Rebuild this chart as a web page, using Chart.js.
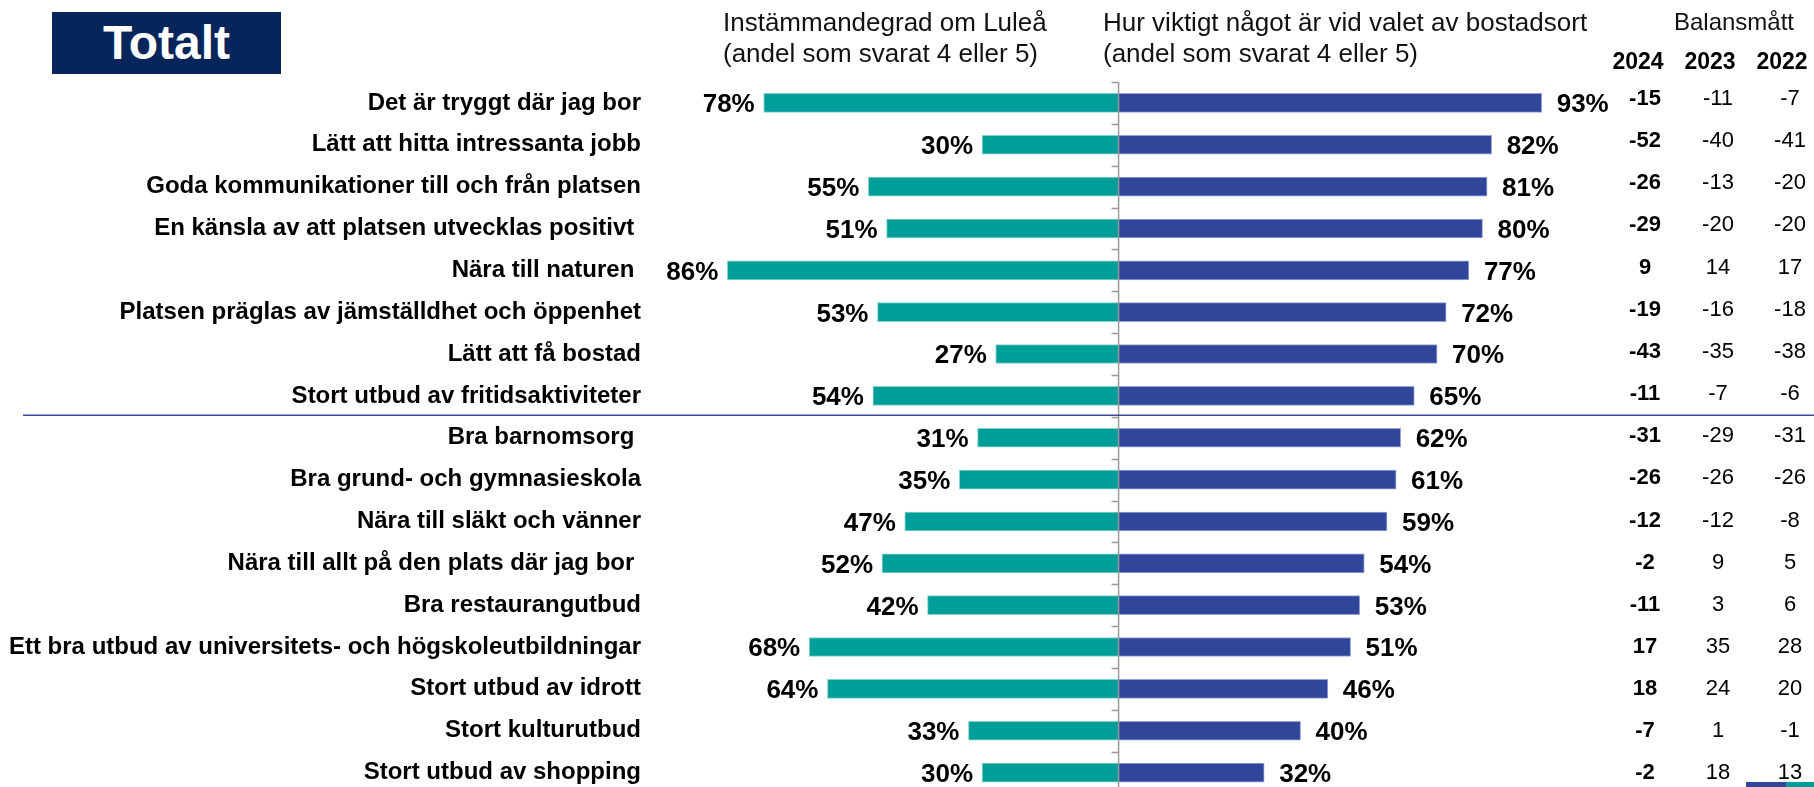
<!DOCTYPE html>
<html>
<head>
<meta charset="utf-8">
<script src="https://cdn.jsdelivr.net/npm/chart.js@4.4.1/dist/chart.umd.min.js"></script>
<style>
  html, body { margin: 0; padding: 0; background: #fff; overflow: hidden; }
  body { width: 1814px; height: 787px; position: relative; font-family: "Liberation Sans", Arial, sans-serif; }
  #wrap { position: absolute; left: 0; top: 0; width: 1814px; height: 800px; }
  .badge { position: absolute; left: 52px; top: 12px; width: 229px; height: 62px; background: #06255a;
    color: #fff; font-weight: bold; font-size: 48px; line-height: 62px; text-align: center; }
  .head { position: absolute; top: 7px; font-size: 26px; line-height: 31px; color: #111; white-space: nowrap; }
  .bal { position: absolute; top: 8px; left: 1734px; transform: translateX(-50%); font-size: 24px; color: #111; }
  .year { position: absolute; top: 48px; font-size: 23px; font-weight: bold; transform: translateX(-50%); }
</style>
</head>
<body>
<div id="wrap"><canvas id="chart" width="1814" height="800"></canvas></div>
<div class="badge">Totalt</div>
<div class="head" style="left:723px">Instämmandegrad om Luleå<br>(andel som svarat 4 eller 5)</div>
<div class="head" style="left:1103px">Hur viktigt något är vid valet av bostadsort<br>(andel som svarat 4 eller 5)</div>
<div class="bal">Balansmått</div>
<div class="year" style="left:1638px">2024</div>
<div class="year" style="left:1710px">2023</div>
<div class="year" style="left:1782px">2022</div>
<script>
// Data
var categories = [
  'Det är tryggt där jag bor',
  'Lätt att hitta intressanta jobb',
  'Goda kommunikationer till och från platsen',
  'En känsla av att platsen utvecklas positivt ',
  'Nära till naturen ',
  'Platsen präglas av jämställdhet och öppenhet',
  'Lätt att få bostad',
  'Stort utbud av fritidsaktiviteter',
  'Bra barnomsorg ',
  'Bra grund- och gymnasieskola',
  'Nära till släkt och vänner',
  'Nära till allt på den plats där jag bor ',
  'Bra restaurangutbud',
  'Ett bra utbud av universitets- och högskoleutbildningar',
  'Stort utbud av idrott',
  'Stort kulturutbud',
  'Stort utbud av shopping'
];
var agreeLulea  = [78, 30, 55, 51, 86, 53, 27, 54, 31, 35, 47, 52, 42, 68, 64, 33, 30];
var importance  = [93, 82, 81, 80, 77, 72, 70, 65, 62, 61, 59, 54, 53, 51, 46, 40, 32];
var balance2024 = [-15, -52, -26, -29, 9, -19, -43, -11, -31, -26, -12, -2, -11, 17, 18, -7, -2];
var balance2023 = [-11, -40, -13, -20, 14, -16, -35, -7, -29, -26, -12, 9, 3, 35, 24, 1, 18];
var balance2022 = [-7, -41, -20, -20, 17, -18, -38, -6, -31, -26, -8, 5, 6, 28, 20, -1, 13];
var splitAfter = 7; // blue rule under "Stort utbud av fritidsaktiviteter"

var TEAL = '#009e98';
var BLUE = '#30469b';
var FONT = '"Liberation Sans", Arial, sans-serif';

var overlay = {
  id: 'overlay',
  afterDatasetsDraw: function (chart) {
    var ctx = chart.ctx;
    var area = chart.chartArea;
    var x = chart.scales.x;
    var y = chart.scales.y;
    var zero = x.getPixelForValue(0);
    var band = y.getPixelForValue(1) - y.getPixelForValue(0);
    var n = categories.length;
    ctx.save();

    // centre axis with small ticks between categories
    ctx.strokeStyle = '#9a9a9a';
    ctx.lineWidth = 1.5;
    ctx.beginPath();
    ctx.moveTo(zero, area.top);
    ctx.lineTo(zero, chart.height);
    for (var i = 0; i <= n; i++) {
      var ty = Math.round(y.getPixelForValue(i) - band / 2) + 0.5;
      ctx.moveTo(zero - 7, ty);
      ctx.lineTo(zero, ty);
    }
    ctx.stroke();

    // separator rule
    var sy = (y.getPixelForValue(splitAfter) + y.getPixelForValue(splitAfter + 1)) / 2 - 1.5;
    ctx.strokeStyle = '#3b4a9c';
    ctx.lineWidth = 1.5;
    ctx.beginPath();
    ctx.moveTo(23, sy);
    ctx.lineTo(chart.width, sy);
    ctx.stroke();

    // percent labels at bar ends
    ctx.fillStyle = '#000';
    var left = chart.getDatasetMeta(0).data;
    var right = chart.getDatasetMeta(1).data;
    for (var j = 0; j < n; j++) {
      var by = left[j].y + 26 * 0.36;
      ctx.font = 'bold 26px ' + FONT;
      ctx.textAlign = 'right';
      ctx.fillText(agreeLulea[j] + '%', left[j].x - 9, by);
      ctx.textAlign = 'left';
      ctx.fillText(importance[j] + '%', right[j].x + 15, by);

      // balance columns (sit slightly high in the source, more so at the top)
      var vy = y.getPixelForValue(j) - 6 + 5 * j / (n - 1) + 22 * 0.36;
      ctx.textAlign = 'center';
      ctx.font = 'bold 22px ' + FONT;
      ctx.fillText(String(balance2024[j]), 1645, vy);
      ctx.font = '22px ' + FONT;
      ctx.fillText(String(balance2023[j]), 1718, vy);
      ctx.fillText(String(balance2022[j]), 1790, vy);
    }

    // cut-off legend swatches, bottom right
    ctx.fillStyle = BLUE;
    ctx.fillRect(1746, 782, 40, 20);
    ctx.fillStyle = TEAL;
    ctx.fillRect(1786, 782, 30, 20);
    ctx.restore();
  }
};

new Chart(document.getElementById('chart'), {
  type: 'bar',
  data: {
    labels: categories,
    datasets: [
      {
        label: 'Instämmandegrad om Luleå',
        data: agreeLulea.map(function (v) { return -v; }),
        backgroundColor: TEAL,
        borderColor: '#86d2cd',
        borderWidth: { top: 1, bottom: 1, left: 1, right: 0 },
        borderSkipped: false,
        barThickness: 19
      },
      {
        label: 'Hur viktigt något är vid valet av bostadsort',
        data: importance,
        backgroundColor: BLUE,
        borderColor: '#9aa3d0',
        borderWidth: { top: 1, bottom: 1, left: 0, right: 1 },
        borderSkipped: false,
        barThickness: 19
      }
    ]
  },
  options: {
    indexAxis: 'y',
    responsive: false,
    devicePixelRatio: 1,
    animation: false,
    layout: { padding: { left: 0, right: 13, top: 82, bottom: 6.5 } },
    plugins: {
      legend: { display: false },
      tooltip: { enabled: false }
    },
    scales: {
      x: {
        stacked: true,
        display: false,
        min: -103,
        max: 150
      },
      y: {
        stacked: true,
        offset: true,
        grid: { display: false, drawTicks: false },
        border: { display: false },
        afterFit: function (scale) {
          scale.width = 650;
          scale.paddingTop = 0;
          scale.paddingBottom = 0;
        },
        ticks: {
          autoSkip: false,
          padding: 9,
          color: '#000',
          font: { family: FONT, size: 24, weight: 'bold' }
        }
      }
    }
  },
  plugins: [overlay]
});
</script>
</body>
</html>
